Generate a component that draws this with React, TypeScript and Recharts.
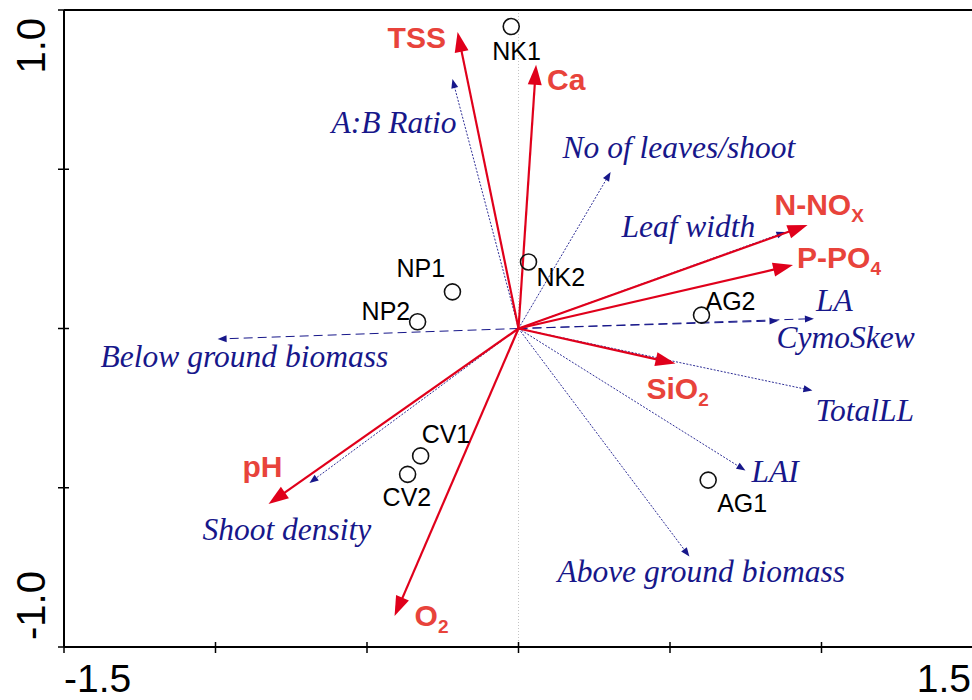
import React from 'react';
import { ReferenceLine, Scatter, ScatterChart, XAxis, YAxis } from 'recharts';

// environmental vectors (red); "_" marks the start of a subscript
const envNames = ['TSS', 'Ca', 'N-NO_X', 'P-PO_4', 'SiO_2', 'pH', 'O_2'];
const envX = [-0.201, 0.058, 0.954, 0.906, 0.518, -0.825, -0.409];
const envY = [0.931, 0.828, 0.325, 0.199, -0.11, -0.551, -0.903];

// species / plant trait vectors (blue)
const spNames = [
  'A:B Ratio',
  'No of leaves/shoot',
  'Leaf width',
  'LA',
  'CymoSkew',
  'TotalLL',
  'LAI',
  'Above ground biomass',
  'Below ground biomass',
  'Shoot density',
];
const spX = [-0.218, 0.304, 0.881, 0.975, 0.858, 0.97, 0.749, 0.564, -0.993, -0.69];
const spY = [0.783, 0.491, 0.303, 0.031, 0.024, -0.195, -0.446, -0.716, -0.033, -0.485];

// sites
const siteNames = ['NK1', 'NK2', 'NP1', 'NP2', 'AG2', 'AG1', 'CV1', 'CV2'];
const siteX = [-0.024, 0.033, -0.218, -0.333, 0.604, 0.626, -0.323, -0.366];
const siteY = [0.948, 0.209, 0.115, 0.021, 0.042, -0.476, -0.4, -0.458];

const xTicks = [-1.5, -1, -0.5, 0, 0.5, 1, 1.5];
const yTicks = [-1, -0.5, 0, 0.5, 1];

// label placement relative to the point, in pixels (text start, baseline)
const labelOffset: Record<string, [number, number]> = {
  TSS: [-70, 16],
  Ca: [11, 25],
  'N-NO_X': [-33, -10],
  'P-PO_4': [4, 3],
  SiO_2: [-29, 35],
  pH: [-26, -27],
  O_2: [20, 10],
  'A:B Ratio': [-121, 54],
  'No of leaves/shoot': [-48, -14],
  'Leaf width': [-164, 5],
  LA: [2, -8],
  CymoSkew: [-2, 27],
  TotalLL: [3, 30],
  LAI: [6, 11],
  'Above ground biomass': [-132, 25],
  'Below ground biomass': [-117, 28],
  'Shoot density': [-107, 57],
  NK1: [-19, 33],
  NK2: [8, 24],
  NP1: [-56, -15],
  NP2: [-56, -2],
  AG2: [4, -5],
  AG1: [9, 32],
  CV1: [1, -13],
  CV2: [-25, 32],
};

const dashedSp = ['LA', 'CymoSkew', 'Below ground biomass'];

const RED_LINE = '#e0001b';
const RED_TEXT = '#e8433b';
const BLUE = '#17178a';
const SANS = '"Liberation Sans", Arial, sans-serif';
const SERIF = '"Liberation Serif", "Times New Roman", serif';

const envData = envNames.map((name, i) => ({ name, x: envX[i], y: envY[i] }));
const spData = spNames.map((name, i) => ({ name, x: spX[i], y: spY[i] }));
const siteData = siteNames.map((name, i) => ({ name, x: siteX[i], y: siteY[i] }));

const makeArrow =
  (color: string, width: number, dash: string | undefined, len: number, half: number) =>
  (props: any) => {
    const { x1, y1, x2, y2 } = props;
    const dx = x2 - x1;
    const dy = y2 - y1;
    const d = Math.sqrt(dx * dx + dy * dy) || 1;
    const ux = dx / d;
    const uy = dy / d;
    const bx = x2 - ux * len;
    const by = y2 - uy * len;
    const pts = `${x2},${y2} ${bx - uy * half},${by + ux * half} ${bx + uy * half},${by - ux * half}`;
    return (
      <g>
        <line x1={x1} y1={y1} x2={bx + ux * 2} y2={by + uy * 2} stroke={color} strokeWidth={width} strokeDasharray={dash} />
        <polygon points={pts} fill={color} stroke="none" />
      </g>
    );
  };

const redArrow = makeArrow(RED_LINE, 2.2, undefined, 20, 7);
const blueDotted = makeArrow(BLUE, 0.9, '2 1.5', 9, 3.5);
const blueDashed = makeArrow(BLUE, 1, '9 5', 9, 3.5);

const EnvLabel = (props: any) => {
  const { cx, cy, payload } = props;
  const [dx, dy] = labelOffset[payload.name] || [0, 0];
  const [main, sub] = payload.name.split('_');
  return (
    <text x={cx + dx} y={cy + dy} fill={RED_TEXT} fontFamily={SANS} fontWeight="bold" fontSize={30}>
      {main}
      {sub && (
        <tspan fontSize={19} dy={7}>
          {sub}
        </tspan>
      )}
    </text>
  );
};

const SpLabel = (props: any) => {
  const { cx, cy, payload } = props;
  const [dx, dy] = labelOffset[payload.name] || [0, 0];
  return (
    <text x={cx + dx} y={cy + dy} fill={BLUE} fontFamily={SERIF} fontStyle="italic" fontSize={31.5}>
      {payload.name}
    </text>
  );
};

const SiteMark = (props: any) => {
  const { cx, cy, payload } = props;
  const [dx, dy] = labelOffset[payload.name] || [0, 0];
  return (
    <g>
      <circle cx={cx} cy={cy} r={8} fill="none" stroke="#111" strokeWidth={1.6} />
      <text x={cx + dx} y={cy + dy} fill="#000" fontFamily={SANS} fontSize={25}>
        {payload.name}
      </text>
    </g>
  );
};

const XTick = (props: any) => {
  const { x, y, payload } = props;
  const v = payload.value;
  return (
    <g>
      <line x1={x} x2={x} y1={y - 5} y2={y + 6} stroke="#000" strokeWidth={1.5} />
      {Math.abs(v) === 1.5 && (
        <text x={v < 0 ? x : x - 2} y={y + 45} textAnchor={v < 0 ? 'start' : 'end'} fontFamily={SANS} fontSize={39} fill="#000">
          {v.toFixed(1)}
        </text>
      )}
    </g>
  );
};

const YTick = (props: any) => {
  const { x, y, payload } = props;
  const v = payload.value;
  const ty = v > 0 ? y + 8 : y - 7;
  return (
    <g>
      <line x1={x - 6} x2={x + 5} y1={y} y2={y} stroke="#000" strokeWidth={1.5} />
      {Math.abs(v) === 1 && (
        <text
          x={45}
          y={ty}
          transform={`rotate(-90, 45, ${ty})`}
          textAnchor={v > 0 ? 'end' : 'start'}
          fontFamily={SANS}
          fontSize={40}
          fill="#000"
        >
          {v.toFixed(1)}
        </text>
      )}
    </g>
  );
};

export default function App() {
  return (
    <div style={{ position: 'absolute', left: 0, top: 0, width: 972, height: 700, overflow: 'hidden', background: '#fff' }}>
      <ScatterChart width={973} height={700} margin={{ top: 10, right: 0, bottom: 0, left: 0 }}>
        <XAxis
          type="number"
          dataKey="x"
          domain={[-1.5, 1.5]}
          ticks={xTicks}
          allowDataOverflow
          height={53}
          axisLine={{ stroke: '#000', strokeWidth: 2 }}
          tickLine={false}
          tickSize={0}
          tickMargin={0}
          tick={<XTick />}
          interval={0}
        />
        <YAxis
          type="number"
          dataKey="y"
          domain={[-1, 1]}
          ticks={yTicks}
          allowDataOverflow
          width={64}
          axisLine={{ stroke: '#000', strokeWidth: 2 }}
          tickLine={false}
          tickSize={0}
          tickMargin={0}
          tick={<YTick />}
          interval={0}
        />
        <ReferenceLine x={0} stroke="#c4c4c4" strokeDasharray="1 2" />
        <ReferenceLine y={1} stroke="#000" strokeWidth={2} />
        {spData.map((d) => (
          <ReferenceLine
            key={d.name}
            segment={[
              { x: 0, y: 0 },
              { x: d.x, y: d.y },
            ]}
            shape={dashedSp.includes(d.name) ? blueDashed : blueDotted}
          />
        ))}
        {envData.map((d) => (
          <ReferenceLine
            key={d.name}
            segment={[
              { x: 0, y: 0 },
              { x: d.x, y: d.y },
            ]}
            shape={redArrow}
          />
        ))}
        <Scatter data={spData} shape={SpLabel} isAnimationActive={false} />
        <Scatter data={envData} shape={EnvLabel} isAnimationActive={false} />
        <Scatter data={siteData} shape={SiteMark} isAnimationActive={false} />
      </ScatterChart>
    </div>
  );
}
